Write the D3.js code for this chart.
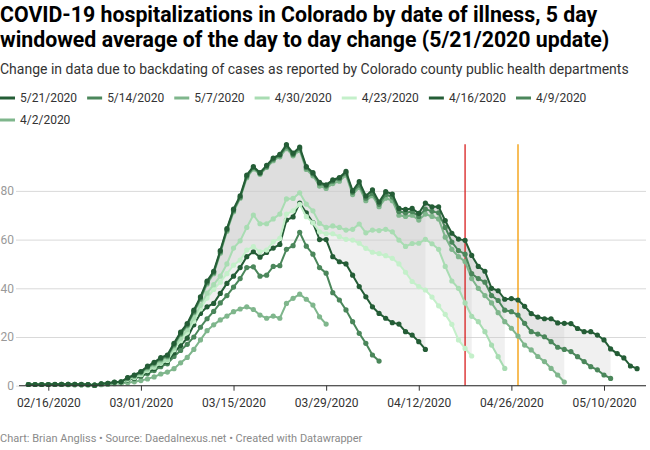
<!DOCTYPE html>
<html>
<head>
<meta charset="utf-8">
<script src="https://cdn.jsdelivr.net/npm/d3@7"></script>
<style>
    body { margin: 0; background: #fff; }
    svg { font-family: Roboto, "Open Sans", sans-serif; }
</style>
</head>
<body>
<div id="chart"></div>
<script>
// textos
const titleLines = [
    "COVID-19 hospitalizations in Colorado by date of illness, 5 day",
    "windowed average of the day to day change (5/21/2020 update)"
];
const subtitle = "Change in data due to backdating of cases as reported by Colorado county public health departments";
const footer = "Chart: Brian Angliss \u2022 Source: Daedalnexus.net \u2022 Created with Datawrapper";

// una serie por actualización; todas empiezan el 13/2/2020, un valor por día
const updates = ["5/21/2020", "5/14/2020", "5/7/2020", "4/30/2020", "4/23/2020", "4/16/2020", "4/9/2020", "4/2/2020"];
const colors = ["#245d36", "#4b875b", "#7fb68c", "#a8dcb2", "#c4f0ca", "#245d36", "#4b875b", "#7fb68c"];
const firstDay = "2020-02-13";

const v0521 = [
    0.5, 0.5, 0.5, 0.5, 0.6, 0.6, 0.6, 0.6, 0.6, 0.5,
    0.2, 0.8, 1.0, 1.5, 1.6, 3.3, 4.4, 5.8, 8.0, 9.6,
    11.5, 12.6, 17.4, 22.0, 25.5, 31.0, 36.5, 43.0, 47.0, 55.5,
    64.5, 72.5, 78.0, 86.5, 90.0, 87.5, 90.5, 93.5, 95.0, 99.0,
    95.5, 98.0, 90.0, 87.5, 83.5, 82.5, 84.5, 85.5, 88.0, 80.0,
    83.8, 77.9, 80.4, 75.4, 79.7, 78.7, 72.8, 72.4, 72.8, 70.8,
    75.0, 73.5, 73.5, 67.8, 62.6, 60.2, 59.7, 53.5, 49.0, 47.0,
    40.0, 39.0, 35.5, 35.8, 35.2, 32.6, 29.6, 28.2, 27.5, 27.5,
    25.8, 25.6, 25.5, 23.5, 22.2, 22.2, 20.8, 18.8, 15.1, 13.2,
    11.4, 8.1, 7.0
];
const v0514 = [
    0.5, 0.5, 0.5, 0.5, 0.5, 0.6, 0.6, 0.6, 0.5, 0.5,
    0.2, 0.8, 1.0, 1.4, 1.6, 3.2, 4.2, 5.6, 7.7, 9.3,
    11.1, 12.2, 16.9, 21.4, 25.0, 30.4, 36.0, 42.4, 46.5, 55.0,
    64.0, 72.0, 77.4, 86.0, 89.6, 87.2, 90.0, 93.0, 94.6, 98.2,
    95.0, 97.4, 89.5, 87.0, 83.0, 82.0, 84.0, 85.0, 87.4, 79.4,
    82.5, 77.0, 79.0, 74.5, 78.5, 77.5, 71.5, 71.0, 71.5, 69.5,
    72.5, 71.6, 71.0, 65.0, 59.0, 55.5, 54.0, 46.0, 44.0, 42.5,
    37.0, 35.0, 31.0, 30.4, 29.0, 25.6, 22.2, 21.2, 20.1, 18.1,
    15.8, 14.9, 14.0, 11.9, 9.9, 7.8, 6.5, 4.4, 3.0
];
const v0507 = [
    0.5, 0.5, 0.5, 0.5, 0.5, 0.5, 0.6, 0.5, 0.5, 0.5,
    0.2, 0.7, 0.9, 1.3, 1.5, 3.0, 3.9, 5.3, 7.3, 8.9,
    10.6, 11.8, 16.4, 21.0, 24.6, 30.0, 35.4, 41.8, 46.0, 54.4,
    63.4, 71.4, 77.0, 85.4, 89.0, 86.8, 89.6, 92.4, 94.0, 97.4,
    94.4, 96.6, 88.8, 86.2, 82.0, 81.0, 83.0, 84.0, 86.5, 78.5,
    81.5, 76.0, 78.0, 73.5, 77.0, 76.0, 70.0, 69.5, 70.0, 68.0,
    70.5, 69.5, 68.5, 61.0, 56.0, 53.0, 51.0, 44.0, 40.0, 37.0,
    34.0, 30.0, 26.3, 23.6, 20.4, 16.7, 14.7, 12.0, 9.9, 7.1,
    4.4, 1.5
];
const v0430 = [
    0.5, 0.5, 0.5, 0.5, 0.5, 0.5, 0.5, 0.5, 0.5, 0.4,
    0.2, 0.7, 0.9, 1.2, 1.4, 2.8, 3.6, 4.8, 6.5, 8.0,
    9.6, 10.8, 15.5, 19.5, 23.0, 27.8, 33.0, 38.0, 41.5, 45.0,
    50.0, 56.5, 59.5, 65.0, 70.1, 66.5, 66.5, 68.5, 70.5, 76.7,
    76.9, 79.2, 74.6, 71.8, 66.7, 65.0, 65.6, 65.0, 63.9, 64.2,
    66.4, 62.8, 63.9, 63.7, 64.2, 63.2, 59.8, 57.2, 58.4, 58.5,
    60.1, 58.3, 56.0, 49.0, 43.0, 40.0, 34.0, 28.5, 26.3, 22.2,
    16.7, 11.9, 7.1
];
const v0423 = [
    0.5, 0.5, 0.5, 0.5, 0.5, 0.5, 0.5, 0.5, 0.4, 0.4,
    0.1, 0.6, 0.8, 1.1, 1.3, 2.6, 3.4, 4.5, 6.2, 7.6,
    9.2, 10.4, 14.8, 18.5, 22.0, 26.5, 31.5, 36.0, 39.5, 42.5,
    46.0, 49.5, 51.6, 55.7, 57.1, 55.0, 55.7, 59.1, 60.5, 70.5,
    71.8, 74.5, 69.4, 66.9, 63.2, 62.4, 62.4, 61.2, 60.1, 59.8,
    58.5, 56.4, 54.8, 54.2, 53.4, 52.3, 50.0, 46.6, 42.8, 40.7,
    39.3, 36.4, 32.8, 29.3, 25.2, 18.8, 15.3, 12.2
];
const v0416 = [
    0.5, 0.5, 0.5, 0.5, 0.5, 0.5, 0.5, 0.5, 0.4, 0.4,
    0.1, 0.6, 0.8, 1.1, 1.3, 2.5, 3.2, 4.2, 5.6, 7.0,
    8.6, 9.8, 13.5, 16.5, 19.5, 25.0, 29.7, 32.4, 33.8, 37.9,
    42.0, 45.0, 48.5, 53.0, 55.0, 52.8, 54.7, 56.5, 58.0, 68.0,
    69.3, 75.0, 71.0, 67.0, 60.0, 60.0, 53.0, 50.9, 50.0, 45.4,
    40.7, 36.5, 32.4, 29.7, 27.7, 25.9, 25.3, 22.2, 20.8, 18.1,
    14.9
];
const v0409 = [
    0.5, 0.5, 0.5, 0.5, 0.5, 0.5, 0.5, 0.4, 0.4, 0.4,
    0.1, 0.5, 0.7, 1.0, 1.2, 2.3, 2.9, 3.8, 5.0, 6.2,
    7.8, 9.0, 12.0, 14.5, 17.0, 20.0, 24.0, 27.5, 30.5, 34.0,
    37.0, 40.5, 44.0, 48.5, 48.8, 45.0, 45.4, 49.0, 49.3, 56.0,
    57.5, 63.0, 57.3, 54.0, 48.5, 46.2, 38.2, 35.2, 31.1, 26.3,
    21.5, 17.4, 12.6, 10.1
];
const v0402 = [
    0.5, 0.5, 0.5, 0.5, 0.5, 0.5, 0.4, 0.4, 0.4, 0.4,
    0.1, 0.4, 0.6, 0.8, 1.0, 1.2, 1.6, 2.1, 2.8, 3.6,
    4.8, 5.6, 7.0, 9.4, 11.6, 14.9, 18.8, 22.6, 25.0, 27.0,
    28.6, 30.4, 31.5, 32.4, 31.3, 29.0, 27.7, 28.6, 27.7, 33.8,
    35.9, 37.6, 35.5, 33.1, 28.3, 25.3
];
const values = [v0521, v0514, v0507, v0430, v0423, v0416, v0409, v0402];

// rellenos grises entre la última actualización y las anteriores
const fills = [
    ["5/21/2020", "5/14/2020"],
    ["5/21/2020", "5/7/2020"],
    ["5/21/2020", "4/30/2020"],
    ["5/21/2020", "4/23/2020"],
    ["5/21/2020", "4/16/2020"]
];

// líneas verticales de referencia
const markerDays = ["2020-04-19", "2020-04-27"];
const markerColors = ["#d81e1e", "#f39a00"];

// ejes
const xTicks = ["2020-02-16", "2020-03-01", "2020-03-15", "2020-03-29", "2020-04-12", "2020-04-26", "2020-05-10"];
const yTicks = [0, 20, 40, 60, 80];

const parse = d3.utcParse("%Y-%m-%d");

class UpdatesChart {
    constructor(selector) {
        this.width = 650;
        this.height = 450;

        this.svg = d3.select(selector).append("svg")
            .attr("width", this.width)
            .attr("height", this.height);

        // eje lógico x (fechas) e y (valores)
        this.x = d3.scaleUtc(
            [parse(xTicks[0]), parse(xTicks[xTicks.length - 1])],
            [48.3, 604]);
        this.y = d3.scaleLinear([0, 100], [385.7, 142.2]);

        let start = parse(firstDay);
        this.series = updates.map((name, i) => ({
            name: name,
            color: colors[i],
            points: values[i].map((v, j) => ({ date: d3.utcDay.offset(start, j), v: v }))
        }));
        this.byName = {};
        this.series.forEach(s => this.byName[s.name] = s);

        this.header();
        this.legend();
        this.plot();

        this.svg.append("text")
            .attr("x", 0).attr("y", 442)
            .style("font-size", "11px")
            .attr("fill", "#8a8a8a")
            .text(footer);
    }

    header() {
        titleLines.forEach((t, i) => {
            this.svg.append("text")
                .attr("x", 0).attr("y", 22 + i * 25)
                .style("font-size", "21.3px")
                .style("font-weight", 700)
                .attr("fill", "#000")
                .text(t);
        });
        this.svg.append("text")
            .attr("x", 0).attr("y", 74)
            .style("font-size", "14px")
            .attr("fill", "#333")
            .text(subtitle);
    }

    legend() {
        let lx = 0, ly = 98;
        this.series.forEach(s => {
            let g = this.svg.append("g");
            g.append("line")
                .attr("x1", 0).attr("x2", 15)
                .attr("stroke", s.color)
                .attr("stroke-width", 3);
            let t = g.append("text")
                .attr("x", 20).attr("dy", "0.35em")
                .style("font-size", "12px")
                .attr("fill", "#333")
                .text(s.name);
            let w = 20 + t.node().getComputedTextLength();
            if (lx + w > this.width) { lx = 0; ly += 22; }
            g.attr("transform", `translate(${lx},${ly})`);
            lx += w + 10;
        });
    }

    plot() {
        let x = this.x, y = this.y;
        let svg = this.svg;

        // rejilla horizontal con sus etiquetas
        let yAxis = svg.append("g")
            .attr("transform", "translate(16,0)")
            .call(d3.axisLeft(y).tickValues(yTicks).tickSize(-630).tickPadding(2))
            .attr("font-family", null)
            .attr("font-size", null);
        yAxis.select(".domain").remove();
        yAxis.selectAll(".tick line").attr("stroke", "#d9d9d9");
        yAxis.selectAll(".tick text")
            .style("font-size", "12px")
            .attr("fill", "#999");

        // rellenos entre pares de series
        let area = d3.area()
            .x(d => x(d.date))
            .y0(d => y(d.bottom))
            .y1(d => y(d.top));
        fills.forEach(([a, b]) => {
            let sa = this.byName[a], sb = this.byName[b];
            let n = Math.min(sa.points.length, sb.points.length);
            let band = d3.range(n).map(i => ({
                date: sa.points[i].date,
                top: sa.points[i].v,
                bottom: sb.points[i].v
            }));
            svg.append("path")
                .datum(band)
                .attr("d", area)
                .attr("fill", "#cccccc")
                .attr("fill-opacity", 0.3);
        });

        // líneas verticales
        markerDays.forEach((d, i) => {
            svg.append("line")
                .attr("x1", x(parse(d))).attr("x2", x(parse(d)))
                .attr("y1", y.range()[1] + 2).attr("y2", y(0))
                .attr("stroke", markerColors[i])
                .attr("stroke-width", 1.3);
        });

        // series: la más reciente se pinta encima
        let line = d3.line()
            .x(d => x(d.date))
            .y(d => y(d.v));
        this.series.slice().reverse().forEach(s => {
            let g = svg.append("g");
            g.append("path")
                .datum(s.points)
                .attr("d", line)
                .attr("fill", "none")
                .attr("stroke", s.color)
                .attr("stroke-width", 2);
            g.selectAll("circle")
                .data(s.points)
                .enter().append("circle")
                .attr("cx", d => x(d.date))
                .attr("cy", d => y(d.v))
                .attr("r", 2.6)
                .attr("fill", s.color);
        });

        // eje x
        svg.append("line")
            .attr("x1", 19).attr("x2", 646)
            .attr("y1", y(0)).attr("y2", y(0))
            .attr("stroke", "#333");
        let xAxis = svg.append("g")
            .attr("transform", `translate(0,${y(0)})`)
            .call(d3.axisBottom(x)
                .tickValues(xTicks.map(parse))
                .tickFormat(d3.utcFormat("%m/%d/%Y"))
                .tickSize(5)
                .tickPadding(8))
            .attr("font-family", null)
            .attr("font-size", null);
        xAxis.select(".domain").remove();
        xAxis.selectAll(".tick line").attr("stroke", "#333");
        xAxis.selectAll(".tick text")
            .style("font-size", "12px")
            .attr("fill", "#333");
    }
}

new UpdatesChart("#chart");
</script>
</body>
</html>
